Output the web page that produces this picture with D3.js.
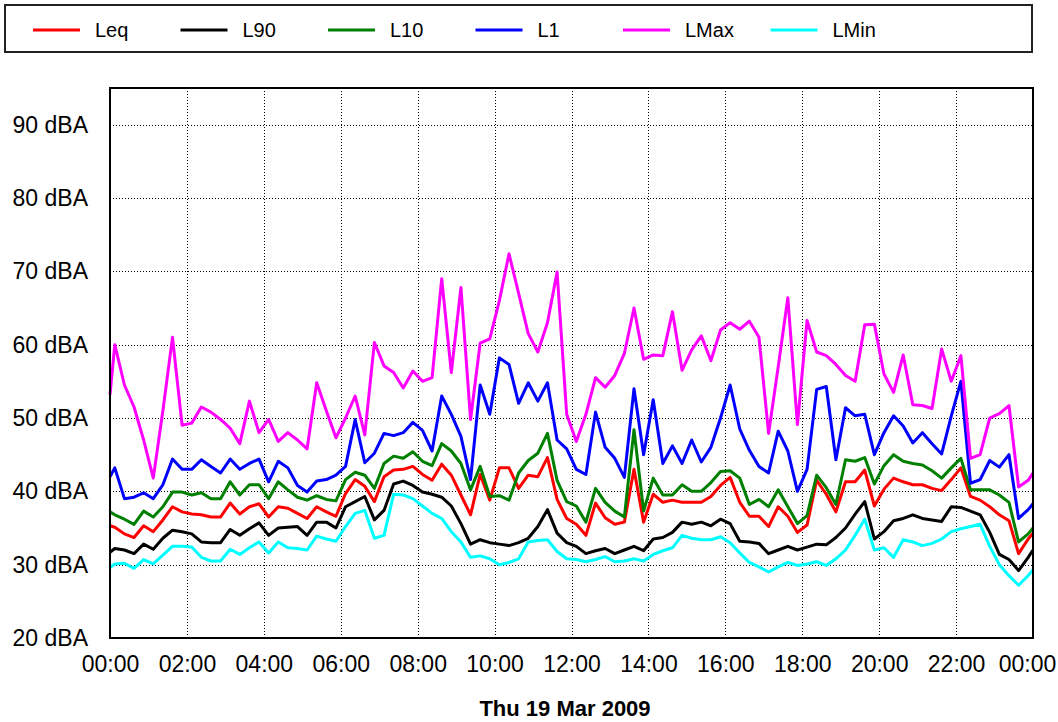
<!DOCTYPE html>
<html>
<head>
<meta charset="utf-8">
<script src="https://cdn.jsdelivr.net/npm/d3@7/dist/d3.min.js"></script>
<style>
  body { margin: 0; background: #fff; }
  svg { display: block; font-family: "Liberation Sans", Arial, sans-serif; }
  .grid line { stroke: #000; stroke-dasharray: 1,2; shape-rendering: crispEdges; }
  .grid path { display: none; }
  .axis path, .axis line { display: none; }
  .axis text { font-size: 23px; fill: #000; }
  .series { fill: none; stroke-width: 3; stroke-linejoin: round; }
</style>
</head>
<body>
<svg width="1058" height="722"></svg>
<script>
const seriesNames = ['Leq', 'L90', 'L10', 'L1', 'LMax', 'LMin'];
const seriesColors = ['#ff0000', '#000000', '#008000', '#0000ff', '#ff00ff', '#00ffff'];

// minutes after midnight: day start, 96 quarter-hour readings (stamped mid-interval), day end
const sampleMinutes = [0].concat(d3.range(96).map(k => 7.5 + 15 * k), [1440]);
const xTickMinutes = d3.range(0, 1441, 120);
const yTickValues = [20, 30, 40, 50, 60, 70, 80, 90];
const dateLabel = 'Thu 19 Mar 2009';

const leq = [35.3,
  35.1, 34.2, 33.7, 35.3, 34.5, 36.1, 37.9, 37.2, 36.9, 36.8, 36.5, 36.5, 38.4, 36.9, 37.9, 38.3,
  36.5, 37.9, 37.7, 37.0, 36.3, 37.9, 37.2, 36.6, 39.7, 41.6, 40.7, 38.6, 42.0, 42.9, 43.0, 43.4,
  42.3, 41.5, 43.7, 42.2, 39.5, 36.8, 42.3, 38.8, 43.2, 43.2, 40.4, 42.2, 42.0, 44.6, 38.9, 36.3,
  35.5, 34.0, 38.4, 36.4, 35.5, 35.8, 43.0, 35.8, 39.6, 38.5, 38.8, 38.5, 38.5, 38.5, 39.3, 40.8,
  41.9, 38.5, 36.6, 36.6, 35.2, 37.9, 36.6, 34.4, 35.4, 41.5, 39.6, 37.2, 41.3, 41.3, 42.9, 38.0,
  40.3, 41.8, 41.3, 40.9, 40.9, 40.4, 40.1, 41.6, 43.2, 39.3, 38.8, 37.9, 36.8, 36.0, 31.5, 33.5,
  34.3];
const l90 = [31.7,
  32.2, 32.0, 31.5, 32.8, 32.1, 33.6, 34.7, 34.5, 34.2, 33.1, 33.0, 33.0, 34.8, 34.0, 34.9, 35.7,
  34.0, 35.0, 35.1, 35.2, 34.0, 35.8, 35.8, 35.0, 37.9, 38.6, 39.3, 36.1, 37.4, 41.0, 41.4, 40.8,
  39.9, 39.6, 39.2, 38.0, 35.6, 32.8, 33.4, 33.0, 32.8, 32.6, 33.0, 33.6, 35.2, 37.5, 34.3, 33.0,
  32.5, 31.5, 31.9, 32.2, 31.5, 32.0, 32.5, 31.9, 33.5, 33.7, 34.4, 35.8, 35.5, 35.8, 35.3, 36.2,
  35.6, 33.2, 33.1, 32.9, 31.5, 32.0, 32.5, 32.0, 32.4, 32.8, 32.7, 33.7, 35.0, 36.9, 38.6, 33.5,
  34.5, 36.0, 36.3, 36.8, 36.3, 36.1, 35.9, 37.9, 37.8, 37.3, 36.8, 34.4, 31.4, 30.7, 29.2, 31.0,
  32.0];
const l10 = [37.2,
  36.8, 36.2, 35.5, 37.3, 36.5, 37.9, 39.9, 39.9, 39.5, 39.8, 39.0, 39.0, 41.3, 39.5, 40.9, 40.9,
  39.0, 41.3, 40.2, 39.2, 38.8, 39.4, 38.9, 38.7, 41.6, 42.6, 42.2, 40.4, 43.8, 44.8, 44.5, 45.4,
  44.1, 43.5, 46.5, 45.5, 43.8, 40.2, 43.4, 39.3, 39.4, 38.8, 42.5, 44.2, 45.2, 47.9, 41.5, 38.6,
  38.0, 35.8, 40.4, 38.5, 37.3, 36.5, 48.4, 37.3, 41.8, 39.5, 39.5, 40.9, 40.0, 40.0, 41.2, 42.7,
  42.8, 41.8, 38.2, 38.9, 37.9, 40.2, 37.9, 35.6, 36.7, 42.2, 40.5, 38.2, 44.3, 44.1, 44.6, 41.0,
  43.5, 45.0, 44.1, 43.8, 43.6, 42.8, 41.8, 43.2, 44.5, 40.2, 40.2, 40.2, 39.5, 38.5, 33.1, 34.2,
  35.0];
const l1 = [42.0,
  43.2, 39.0, 39.2, 39.8, 39.0, 40.9, 44.4, 43.0, 43.0, 44.3, 43.4, 42.5, 44.4, 43.0, 43.8, 44.4,
  41.3, 44.1, 43.2, 40.8, 39.9, 41.4, 41.6, 42.2, 43.4, 49.8, 43.9, 45.2, 47.9, 47.6, 48.0, 49.4,
  48.3, 45.5, 53.0, 50.5, 47.5, 41.6, 54.5, 50.5, 58.2, 57.3, 52.0, 54.8, 52.3, 54.8, 47.0, 45.8,
  43.0, 42.3, 50.8, 46.0, 44.5, 41.9, 54.0, 45.0, 52.5, 43.8, 46.2, 43.8, 47.0, 44.0, 46.0, 50.0,
  54.5, 48.5, 45.6, 43.4, 42.5, 48.2, 45.5, 40.0, 43.0, 53.9, 54.3, 44.3, 51.4, 50.3, 50.5, 45.0,
  48.0, 50.3, 48.9, 46.6, 48.0, 46.5, 45.1, 50.3, 55.0, 41.1, 41.6, 44.2, 43.3, 45.0, 36.3, 37.5,
  38.3];
const lmax = [53.2,
  60.0, 54.5, 51.5, 47.0, 41.8, 51.0, 61.0, 49.0, 49.3, 51.5, 50.8, 49.8, 48.6, 46.5, 52.3, 48.0,
  49.8, 46.8, 48.0, 47.0, 45.8, 54.8, 51.0, 47.3, 50.0, 53.0, 47.7, 60.3, 57.1, 56.2, 54.1, 56.4,
  55.0, 55.5, 69.0, 56.2, 67.8, 49.8, 60.2, 60.8, 66.0, 72.4, 67.0, 61.5, 59.0, 63.0, 69.9, 50.5,
  46.8, 50.5, 55.5, 54.2, 55.8, 58.8, 65.0, 58.0, 58.6, 58.5, 64.5, 56.5, 59.3, 61.2, 57.8, 62.0,
  63.0, 62.1, 63.2, 61.0, 47.9, 57.0, 66.4, 49.1, 63.3, 59.0, 58.5, 57.3, 55.8, 55.0, 62.7, 62.8,
  56.0, 53.5, 58.6, 51.8, 51.7, 51.3, 59.4, 55.0, 58.5, 44.5, 45.0, 50.0, 50.6, 51.7, 40.6, 41.5,
  42.5];
const lmin = [29.6,
  30.1, 30.2, 29.5, 30.7, 30.1, 31.3, 32.5, 32.5, 32.4, 31.0, 30.5, 30.5, 32.1, 31.4, 32.3, 33.1,
  31.6, 33.1, 32.3, 32.2, 32.0, 33.9, 33.5, 33.2, 35.2, 37.0, 37.4, 33.6, 34.0, 39.6, 39.5, 39.0,
  38.0, 37.0, 36.3, 34.5, 33.1, 31.0, 31.2, 30.8, 30.0, 30.3, 30.8, 33.1, 33.3, 33.4, 31.8, 30.8,
  30.7, 30.4, 30.7, 31.1, 30.4, 30.5, 30.8, 30.5, 31.4, 31.9, 32.3, 34.0, 33.6, 33.4, 33.4, 33.8,
  33.0, 31.6, 30.3, 29.7, 29.0, 29.7, 30.3, 29.9, 30.1, 30.4, 29.9, 30.8, 32.0, 34.0, 36.2, 32.0,
  32.3, 31.0, 33.4, 33.1, 32.6, 32.9, 33.5, 34.5, 34.9, 35.2, 35.5, 32.5, 30.0, 28.5, 27.2, 28.5,
  29.3];
const seriesValues = [leq, l90, l10, l1, lmax, lmin];

const margin = { top: 88, right: 25, bottom: 84, left: 110 };
const width = 1058 - margin.left - margin.right;
const height = 722 - margin.top - margin.bottom;

const svg = d3.select('svg');
const g = svg.append('g')
  .attr('transform', 'translate(' + margin.left + ',' + margin.top + ')');

const x = d3.scaleLinear().domain([0, 1440]).range([0, width]);
const y = d3.scaleLinear().domain([20, 95]).range([height, 0]);

const fmtTime = m => String(Math.floor(m / 60) % 24).padStart(2, '0') + ':00';

// dotted grid
g.append('g')
  .attr('class', 'grid')
  .attr('transform', 'translate(0,' + height + ')')
  .call(d3.axisBottom(x).tickValues(xTickMinutes.slice(1, -1)).tickSize(-height).tickFormat(''));
g.append('g')
  .attr('class', 'grid')
  .call(d3.axisLeft(y).tickValues(yTickValues.slice(1)).tickSize(-width).tickFormat(''));

// labels
const xAxis = g.append('g')
  .attr('class', 'axis')
  .attr('transform', 'translate(0,' + height + ')')
  .call(d3.axisBottom(x).tickValues(xTickMinutes).tickSize(0).tickPadding(18).tickFormat(fmtTime));
// last label would run past the page edge
xAxis.selectAll('.tick text')
  .filter(d => d === 1440)
  .attr('dx', -6);

g.append('g')
  .attr('class', 'axis')
  .call(d3.axisLeft(y).tickValues(yTickValues).tickSize(0).tickPadding(22).tickFormat(d => d + ' dBA'));

// lines
const line = d3.line()
  .x((d, i) => x(sampleMinutes[i]))
  .y(d => y(d));

seriesValues.forEach((vals, s) => {
  g.append('path')
    .datum(vals)
    .attr('class', 'series')
    .attr('stroke', seriesColors[s])
    .attr('d', line);
});

// frame
g.append('rect')
  .attr('width', width)
  .attr('height', height)
  .attr('fill', 'none')
  .attr('stroke', '#000')
  .attr('stroke-width', 2);

// date caption
svg.append('text')
  .attr('x', 565)
  .attr('y', 716)
  .attr('text-anchor', 'middle')
  .style('font-size', '22px')
  .style('font-weight', 'bold')
  .text(dateLabel);

// legend
const legend = svg.append('g');
legend.append('rect')
  .attr('x', 5)
  .attr('y', 5)
  .attr('width', 1027)
  .attr('height', 47)
  .attr('fill', '#fff')
  .attr('stroke', '#222')
  .attr('stroke-width', 2);

const item = legend.selectAll('g.item')
  .data(seriesNames)
  .enter()
  .append('g')
  .attr('class', 'item')
  .attr('transform', (d, i) => 'translate(' + (33 + 147.5 * i) + ',30)');
item.append('line')
  .attr('x2', 47)
  .attr('stroke', (d, i) => seriesColors[i])
  .attr('stroke-width', 3);
item.append('text')
  .attr('x', 62)
  .attr('y', 7)
  .style('font-size', '20px')
  .text(d => d);
</script>
</body>
</html>
